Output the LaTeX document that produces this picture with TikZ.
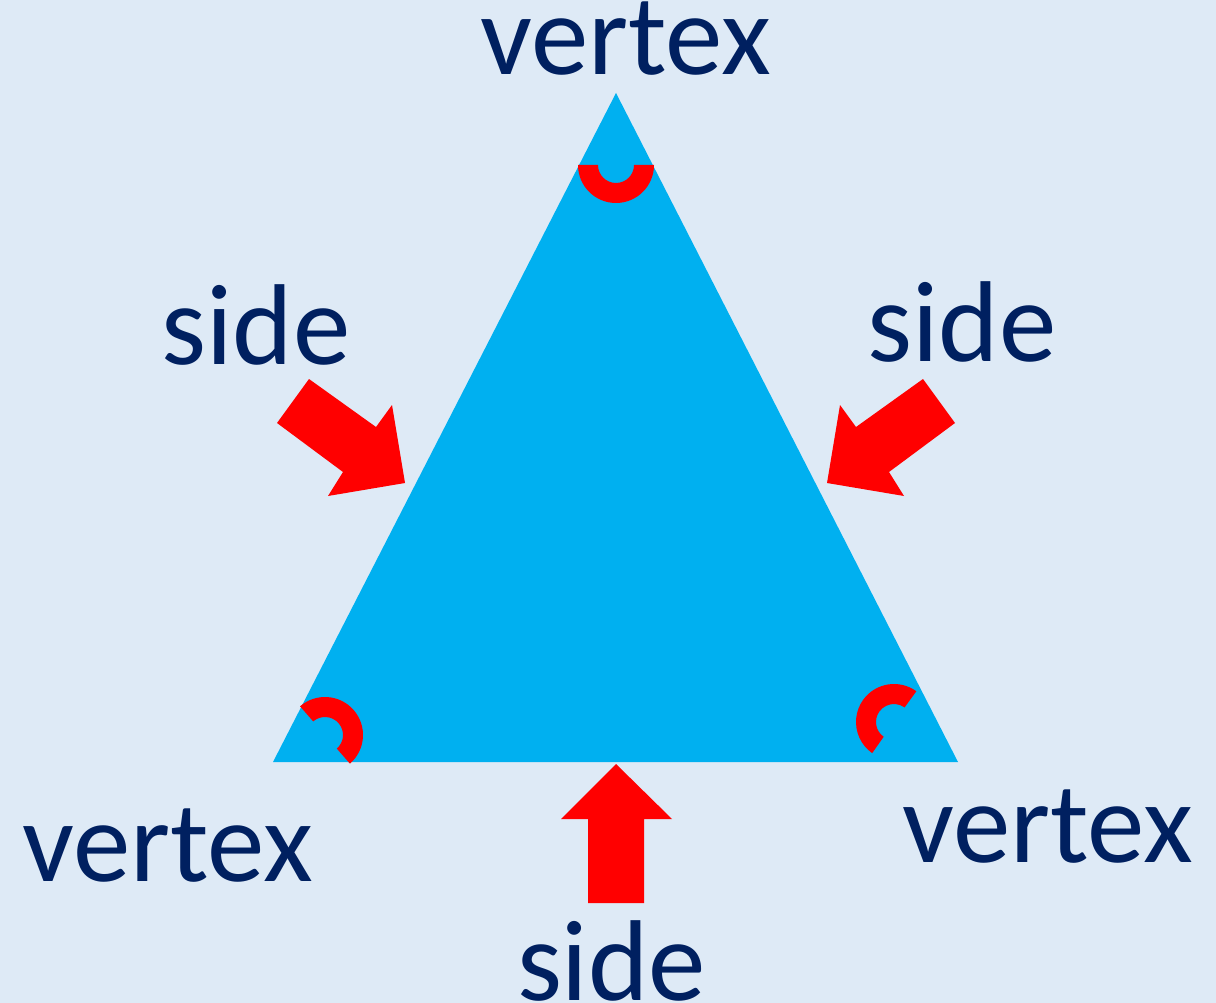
\documentclass[tikz,border=0pt]{standalone}
\usepackage{fontspec}
\setmainfont{Carlito}
\usetikzlibrary{calc}
\definecolor{bgblue}{HTML}{DEEAF6}
\definecolor{triblue}{HTML}{00B0F0}
\definecolor{navy}{HTML}{002060}
\definecolor{markred}{HTML}{FF0000}
\begin{document}
\begin{tikzpicture}[x=1pt,y=-1pt,
  lbl/.style={text=navy, font=\fontsize{115}{130}\selectfont, inner sep=0pt, anchor=base},
  anglemark/.style={fill=markred},
  blockarrow/.style={fill=markred}]
\fill[bgblue] (0,0) rectangle (1216,1003);
\useasboundingbox (0,0) rectangle (1216,1003);

% triangle
\coordinate (A) at (616,93);
\coordinate (B) at (273,762);
\coordinate (C) at (958,762);
\fill[triblue] (A) -- (B) -- (C) -- cycle;

% angle marks
\coordinate (ca) at (616,165);
\coordinate (cb) at (325,735);
\coordinate (cc) at (894,722);
\fill[anglemark] (ca) ++(180:38) arc[start angle=180,end angle=0,radius=38]
  -- ($(ca)+(0:18)$) arc[start angle=0,end angle=180,radius=18] -- cycle;
\fill[anglemark] (cb) ++(-131:38) arc[start angle=-131,end angle=49,radius=38]
  -- ($(cb)+(49:18)$) arc[start angle=49,end angle=-131,radius=18] -- cycle;
\fill[anglemark] (cc) ++(-54:38) arc[start angle=-54,end angle=-235,radius=38]
  -- ($(cc)+(-235:18)$) arc[start angle=-235,end angle=-54,radius=18] -- cycle;

% block arrows
\fill[blockarrow] (309,379) -- (376,427) -- (392,405) -- (405,483) -- (328,496) -- (343,472) -- (277,423) -- cycle;
\fill[blockarrow] (923,379) -- (856,427) -- (840,405) -- (827,483) -- (904,496) -- (889,472) -- (955,423) -- cycle;
\fill[blockarrow] (616,764) -- (672,819) -- (644,819) -- (644,903) -- (588,903) -- (588,819) -- (561,819) -- cycle;

% labels
\node[lbl] (vtop) at (625.5,75) {vertex};
\node[lbl] (vleft) at (167.5,881) {vertex};
\node[lbl] (vright) at (1047.5,862) {vertex};
\node[lbl] (sleft) at (256,364) {side};
\node[lbl] (sright) at (962,361) {side};
\node[lbl] (sbottom) at (611.5,1000) {side};
\end{tikzpicture}
\end{document}
